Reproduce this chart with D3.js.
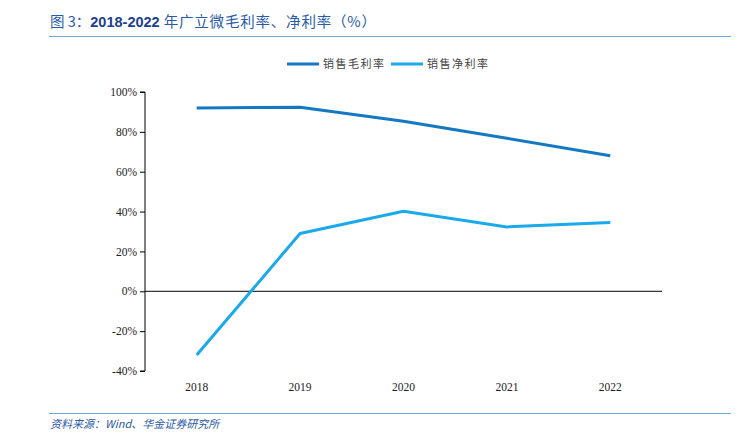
<!DOCTYPE html>
<html>
<head>
<meta charset="utf-8">
<script src="https://cdn.jsdelivr.net/npm/d3@7"></script>
<style>
  body { margin: 0; background: #fff; }
  svg { display: block; }
  .serif text, text.serif { font-family: "Liberation Serif", "Times New Roman", serif; }
</style>
</head>
<body>
<div id="chart"></div>
<script>
const years = ["2018", "2019", "2020", "2021", "2022"];
const grossMargin = [92.0, 92.3, 85.3, 76.8, 68.0];
const netMargin = [-32.0, 29.0, 40.2, 32.3, 34.5];
const yTicks = [-40, -20, 0, 20, 40, 60, 80, 100];
const seriesNames = ["销售毛利率", "销售净利率"];

const width = 737, height = 432;
const svg = d3.select("#chart").append("svg")
  .attr("width", width).attr("height", height);

// title + rules
const title = svg.append("text").attr("x", 50).attr("y", 27)
  .attr("font-family", "Noto Sans CJK SC, sans-serif").attr("font-size", 14.5)
  .attr("fill", "#2b5aa8");
title.append("tspan").text("图 3：");
title.append("tspan").attr("font-weight", "bold").attr("fill", "#1c3f8f")
  .attr("font-family", "Liberation Sans, Arial, sans-serif").text("2018-2022");
title.append("tspan").attr("letter-spacing", 0.8).text(" 年广立微毛利率、净利率（%）");

svg.append("line").attr("x1", 49).attr("x2", 731).attr("y1", 36.5).attr("y2", 36.5)
  .attr("stroke", "#6fa8dc").attr("stroke-width", 1.2);
svg.append("line").attr("x1", 49).attr("x2", 731).attr("y1", 413.5).attr("y2", 413.5)
  .attr("stroke", "#6fa8dc").attr("stroke-width", 1.2);
svg.append("text").attr("x", 50).attr("y", 428)
  .attr("font-family", "Noto Sans CJK SC, sans-serif").attr("font-size", 11)
  .attr("font-style", "italic").attr("fill", "#2b5aa8")
  .text("资料来源：Wind、华金证券研究所");

const x = d3.scaleBand().domain(years).range([145, 662]);
const y = d3.scaleLinear().domain([-40, 100]).range([371, 92]);

const colors = ["#1479c2", "#1aa9ea"];

// y axis
const yAxis = svg.append("g").attr("class", "serif").attr("transform", "translate(145,0)")
  .call(d3.axisLeft(y).tickValues(yTicks).tickSize(5).tickFormat(d => d + "%"));
yAxis.attr("font-family", null);
yAxis.select(".domain").attr("stroke", "#000").attr("d", "M-5," + y(100) + "H0V" + y(-40) + "H-5");
yAxis.selectAll("line").attr("stroke", "#000");
yAxis.selectAll("text").attr("font-size", 11.5).attr("fill", "#222").attr("x", -8);

// zero line
svg.append("line").attr("x1", 145).attr("x2", 662)
  .attr("y1", y(0)).attr("y2", y(0)).attr("stroke", "#000").attr("stroke-width", 1);

// x labels
svg.append("g").attr("class", "serif").selectAll("text").data(years).join("text")
  .attr("x", d => x(d) + x.bandwidth() / 2).attr("y", 391)
  .attr("text-anchor", "middle")
  .attr("font-size", 11.5).attr("fill", "#222").text(d => d);

const line = d3.line()
  .x((d, i) => x(years[i]) + x.bandwidth() / 2)
  .y(d => y(d));

[grossMargin, netMargin].forEach((s, i) => {
  svg.append("path").datum(s).attr("d", line)
    .attr("fill", "none").attr("stroke", colors[i]).attr("stroke-width", 3)
    .attr("stroke-linejoin", "round");
});

// legend
const legend = svg.append("g");
const legendX = [287, 391];
seriesNames.forEach((name, i) => {
  legend.append("line").attr("x1", legendX[i]).attr("x2", legendX[i] + 32)
    .attr("y1", 64).attr("y2", 64).attr("stroke", colors[i]).attr("stroke-width", 3);
  legend.append("text").attr("x", legendX[i] + 36).attr("y", 68)
    .attr("font-family", "Noto Sans CJK SC, sans-serif").attr("font-size", 11)
    .attr("letter-spacing", 1.5).attr("fill", "#444").text(name);
});
</script>
</body>
</html>
